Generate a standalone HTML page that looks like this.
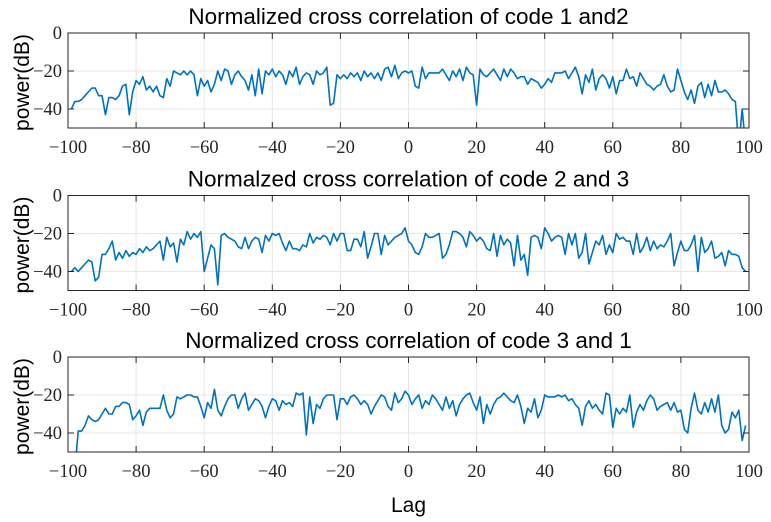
<!DOCTYPE html>
<html><head><meta charset="utf-8"><style>
body{margin:0;background:#fff}
svg{display:block}
.t{font-family:"Liberation Sans",sans-serif;font-size:22.5px;fill:#000}
.y{font-family:"Liberation Sans",sans-serif;font-size:21px;fill:#000}
.k{font-family:"Liberation Serif",serif;font-size:18.5px;fill:#262626}
</style></head><body>
<svg id="c" width="771" height="522"></svg>
<script>
const lags = [];
for (let l = -99; l <= 99; l++) lags.push(l);
const xTicks = [-100,-80,-60,-40,-20,0,20,40,60,80,100];
const yTicks = [0,-20,-40];
const titles = ["Normalized cross correlation of code 1 and2","Normalzed cross correlation of code 2 and 3","Normalized cross correlation of code 3 and 1"];
const series1 = [-40,-36,-36,-35,-33,-31,-29,-29,-33,-33,
-43,-34,-34,-35,-33,-28,-27,-43,-31,-25,
-27,-23,-30,-28,-31,-28,-33,-34,-24,-28,
-20,-21,-22,-20,-22,-20,-22,-33,-24,-28,
-25,-31,-27,-20,-25,-19,-20,-27,-22,-20,
-23,-25,-30,-22,-33,-19,-32,-20,-22,-19,
-23,-20,-22,-27,-20,-23,-18,-27,-23,-21,
-22,-27,-20,-22,-21,-18,-38,-37,-22,-24,
-22,-24,-21,-23,-21,-25,-20,-23,-21,-24,
-21,-25,-19,-18,-23,-17,-24,-21,-20,-21,
-20,-28,-29,-18,-24,-21,-21,-21,-21,-19,
-22,-25,-20,-23,-19,-25,-18,-21,-22,-38,
-19,-22,-23,-21,-19,-22,-25,-19,-23,-19,
-21,-24,-23,-23,-27,-24,-25,-26,-29,-27,
-24,-26,-21,-21,-21,-20,-24,-21,-18,-23,
-32,-22,-26,-19,-30,-24,-22,-24,-29,-23,
-32,-25,-25,-19,-24,-23,-28,-21,-24,-27,
-28,-30,-28,-27,-22,-28,-31,-30,-19,-25,
-31,-35,-30,-37,-28,-26,-34,-27,-33,-25,
-31,-31,-30,-32,-35,-36,-60,-40,-60];
const series2 = [-40,-38,-40,-38,-36,-34,-35,-45,-43,-31,
-31,-28,-24,-34,-30,-33,-29,-32,-30,-31,
-28,-30,-27,-29,-28,-26,-24,-34,-22,-27,
-25,-35,-23,-26,-19,-23,-20,-22,-19,-40,
-33,-26,-28,-47,-21,-20,-22,-23,-24,-27,
-28,-22,-28,-24,-22,-23,-30,-21,-24,-20,
-21,-20,-25,-29,-24,-28,-28,-29,-26,-27,
-20,-25,-22,-23,-21,-22,-26,-20,-24,-20,
-20,-29,-29,-23,-23,-27,-19,-33,-27,-20,
-20,-31,-21,-26,-24,-22,-21,-20,-17,-24,
-26,-30,-31,-27,-20,-22,-22,-21,-20,-33,
-31,-26,-19,-19,-20,-22,-27,-19,-21,-24,
-22,-24,-28,-29,-20,-32,-21,-26,-23,-25,
-37,-21,-34,-31,-42,-22,-21,-22,-28,-17,
-20,-24,-22,-21,-22,-31,-20,-26,-20,-33,
-30,-20,-36,-30,-24,-26,-21,-31,-26,-30,
-20,-23,-22,-24,-24,-31,-20,-30,-27,-22,
-29,-24,-28,-26,-27,-24,-20,-37,-30,-24,
-29,-29,-26,-21,-40,-22,-30,-28,-24,-33,
-32,-30,-37,-29,-31,-31,-32,-38,-40];
const series3 = [-60,-60,-39,-39,-36,-31,-33,-34,-33,-30,
-27,-30,-30,-26,-26,-24,-24,-25,-33,-31,
-28,-36,-29,-27,-27,-27,-27,-20,-28,-32,
-30,-21,-22,-21,-20,-20,-21,-21,-26,-32,
-24,-27,-17,-28,-31,-26,-22,-20,-20,-27,
-22,-19,-28,-25,-22,-23,-26,-32,-26,-22,
-23,-28,-23,-25,-24,-26,-19,-20,-19,-41,
-21,-35,-25,-27,-22,-20,-20,-20,-33,-22,
-22,-25,-21,-20,-22,-25,-23,-25,-30,-26,
-23,-20,-21,-26,-28,-19,-24,-22,-18,-20,
-25,-22,-20,-27,-23,-25,-20,-22,-25,-28,
-21,-27,-23,-31,-25,-22,-20,-19,-24,-28,
-21,-35,-25,-30,-25,-22,-21,-19,-21,-23,
-24,-20,-26,-35,-27,-29,-22,-32,-28,-20,
-21,-21,-21,-20,-21,-20,-23,-22,-25,-27,
-36,-26,-23,-27,-25,-28,-30,-19,-20,-37,
-27,-30,-27,-29,-20,-37,-29,-25,-28,-23,
-20,-22,-28,-26,-25,-24,-28,-24,-29,-28,
-38,-40,-27,-19,-28,-30,-24,-29,-22,-29,
-20,-36,-40,-38,-29,-32,-28,-44,-36];
const allSeries = [series1, series2, series3];

const NS = "http://www.w3.org/2000/svg";
const svg = document.getElementById('c');
const X0 = 68, X1 = 749;
const tops = [33, 195.5, 357];
const H = 95;
function mk(tag, attrs, parent){const e=document.createElementNS(NS,tag);for(const k in attrs)e.setAttribute(k,attrs[k]);(parent||svg).appendChild(e);return e;}
const xs = v => X0 + (v + 100) / 200 * (X1 - X0);
const defs = mk('defs',{});

allSeries.forEach((data, i) => {
  const top = tops[i], bot = top + H;
  const ys = v => top + (0 - v) / 50 * H;
  const g = mk('g',{});
  
  
  mk('rect',{x:X0,y:top,width:X1-X0,height:H,fill:'#fff'},g);
  xTicks.forEach(t => {
    const gl = mk('line',{x1:xs(t),x2:xs(t),y1:top,y2:bot,stroke:'#e6e6e6','stroke-width':1},g);
    
    
  });
  yTicks.concat([-50]).forEach(t => {
    const gl = mk('line',{x1:X0,x2:X1,y1:ys(t),y2:ys(t),stroke:'#e6e6e6','stroke-width':1},g);
    
    
  });
  const cp = mk('clipPath',{id:'cp'+i},defs);
  mk('rect',{x:X0,y:top,width:X1-X0,height:H},cp);
  const pts = data.map((v,j) => xs(lags[j]).toFixed(2)+','+ys(v).toFixed(2)).join(' ');
  const pl = mk('polyline',{points:pts,fill:'none',stroke:'#0072BD','stroke-width':1.6,'stroke-linejoin':'round','clip-path':'url(#cp'+i+')'},g);
  
  
  const box = mk('rect',{x:X0,y:top,width:X1-X0,height:H,fill:'none',stroke:'#262626','stroke-width':1},g);
  
  
  xTicks.forEach(t => {
    mk('line',{x1:xs(t),x2:xs(t),y1:bot,y2:bot-6,stroke:'#262626'},g);
    mk('line',{x1:xs(t),x2:xs(t),y1:top,y2:top+6,stroke:'#262626'},g);
    const tx = mk('text',{x:xs(t),y:bot+25,'text-anchor':'middle',class:'k'},g);
    tx.textContent = t < 0 ? '\u2212' + (-t) : String(t);
    
    
  });
  yTicks.forEach(t => {
    mk('line',{x1:X0,x2:X0+6,y1:ys(t),y2:ys(t),stroke:'#262626'},g);
    mk('line',{x1:X1,x2:X1-6,y1:ys(t),y2:ys(t),stroke:'#262626'},g);
    const tx = mk('text',{x:X0-6,y:ys(t)+6,'text-anchor':'end',class:'k'},g);
    tx.textContent = t < 0 ? '\u2212' + (-t) : String(t);
    
    
  });
  const ti = mk('text',{x:(X0+X1)/2,y:top-9,'text-anchor':'middle',class:'t'},g);
  ti.textContent = titles[i];
  
  
  const yl = mk('text',{x:0,y:0,'text-anchor':'middle',class:'y',transform:'translate(29,'+(top+H/2+2)+') rotate(-90)'},g);
  yl.textContent = 'power(dB)';
  
  
});
const xl = mk('text',{x:(X0+X1)/2,y:512,'text-anchor':'middle',class:'y'});
xl.textContent = 'Lag';


</script>
</body></html>
